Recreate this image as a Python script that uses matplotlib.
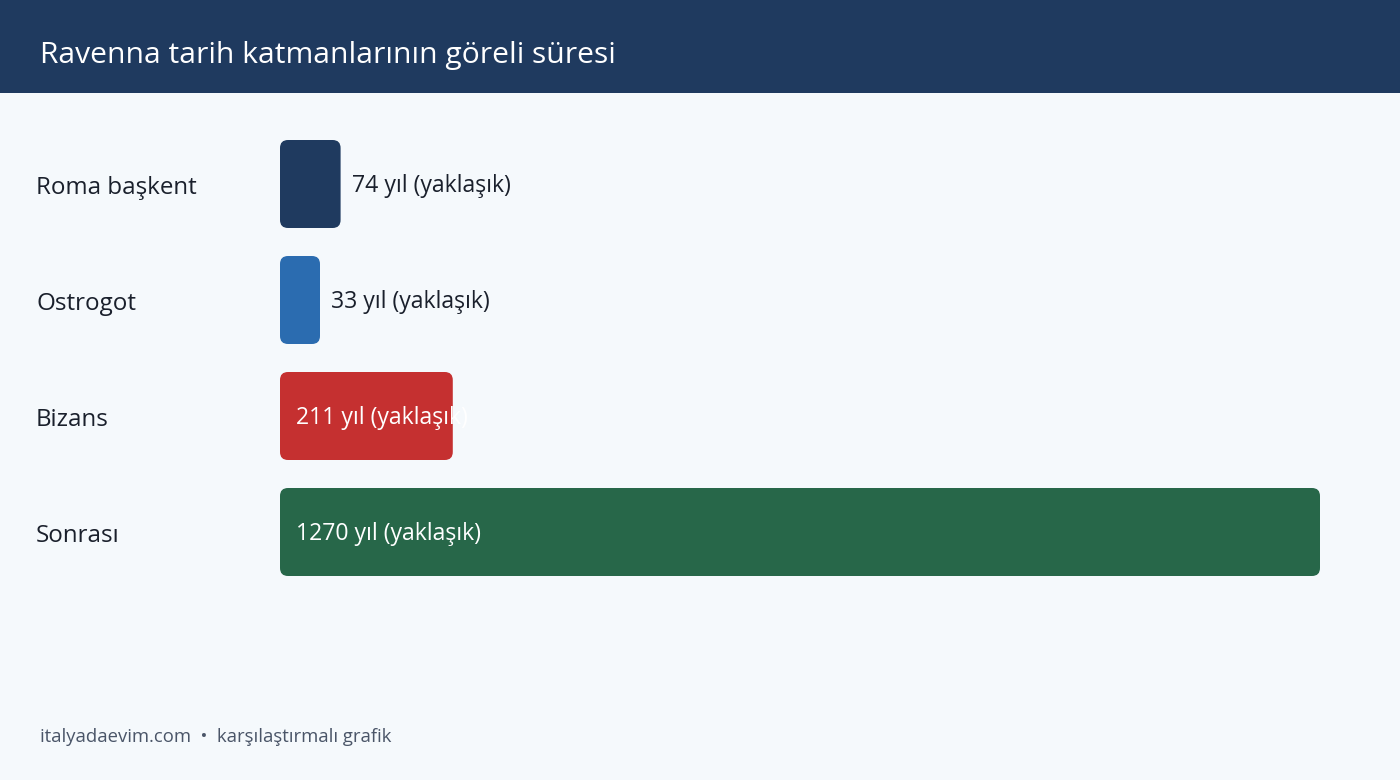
import matplotlib
matplotlib.use("Agg")
import matplotlib.pyplot as plt
from matplotlib.patches import FancyBboxPatch, Rectangle

plt.rcParams['font.family'] = ['Open Sans', 'DejaVu Sans']

# ======================= Data =========================================================================================
categories = ["Roma başkent", "Ostrogot", "Bizans", "Sonrası"]
years = [74, 33, 211, 1270]
value_labels = ["74 yıl (yaklaşık)", "33 yıl (yaklaşık)", "211 yıl (yaklaşık)", "1270 yıl (yaklaşık)"]
bar_colors = ["#1f3a5f", "#2b6cb0", "#c53030", "#276749"]

title = "Ravenna tarih katmanlarının göreli süresi"
footer = "italyadaevim.com  •  karşılaştırmalı grafik"

BG = "#f5f9fc"
HEADER = "#1f3a5f"
TEXT = "#1a202c"

W, H = 1400, 780
fig = plt.figure(figsize=(W / 100, H / 100), dpi=100)
fig.patch.set_facecolor(BG)

# header band
fig.patches.append(Rectangle((0, 1 - 93 / H), 1, 93 / H, transform=fig.transFigure,
                             facecolor=HEADER, edgecolor="none", zorder=0))
fig.text(40 / W, 1 - 55 / H, title, color="white", fontsize=21.6, va="center", ha="left")

# bar axes: left edge of bars at x=280px, 1270 years reaches x=1320px
ax_top, ax_bot = 126, 590
ax = fig.add_axes([280 / W, 1 - ax_bot / H, 1040 / W, (ax_bot - ax_top) / H])
ax.set_facecolor("none")
ax.set_xlim(0, max(years))
ax.set_ylim(len(categories) - 0.5, -0.5)
ax.axis("off")

px_x = 1040 / max(years)                    # pixels per year
px_y = (ax_bot - ax_top) / len(categories)  # pixels per row
bar_h = 88 / px_y
radius = 8 / px_x
min_w = 40 / px_x                           # very short bars still shown 40px wide
lab_dy = 2 / px_y                           # labels sit a touch below bar centre

for i, (cat, v, lab, col) in enumerate(zip(categories, years, value_labels, bar_colors)):
    w = max(v, min_w)
    bar = FancyBboxPatch((0, i - bar_h / 2), w, bar_h,
                         boxstyle=f"round,pad=0,rounding_size={radius}",
                         mutation_aspect=(1 / px_y) / (1 / px_x),
                         facecolor=col, edgecolor="none")
    ax.add_patch(bar)
    if v > 150:
        ax.text(16 / px_x, i + lab_dy, lab, color="white", fontsize=16.6, va="center", ha="left")
    else:
        ax.text(w + 11 / px_x, i + lab_dy, lab, color=TEXT, fontsize=16.6, va="center", ha="left")
    # category name on the left
    fig.text(36 / W, 1 - (ax_top + (i + 0.5) * px_y + 4) / H, cat, color=TEXT,
             fontsize=17.4, va="center", ha="left")

fig.text(40 / W, 1 - 737 / H, footer, color="#4a5568", fontsize=13.3, va="center", ha="left")

plt.savefig("out.png", dpi=100, facecolor=BG)
